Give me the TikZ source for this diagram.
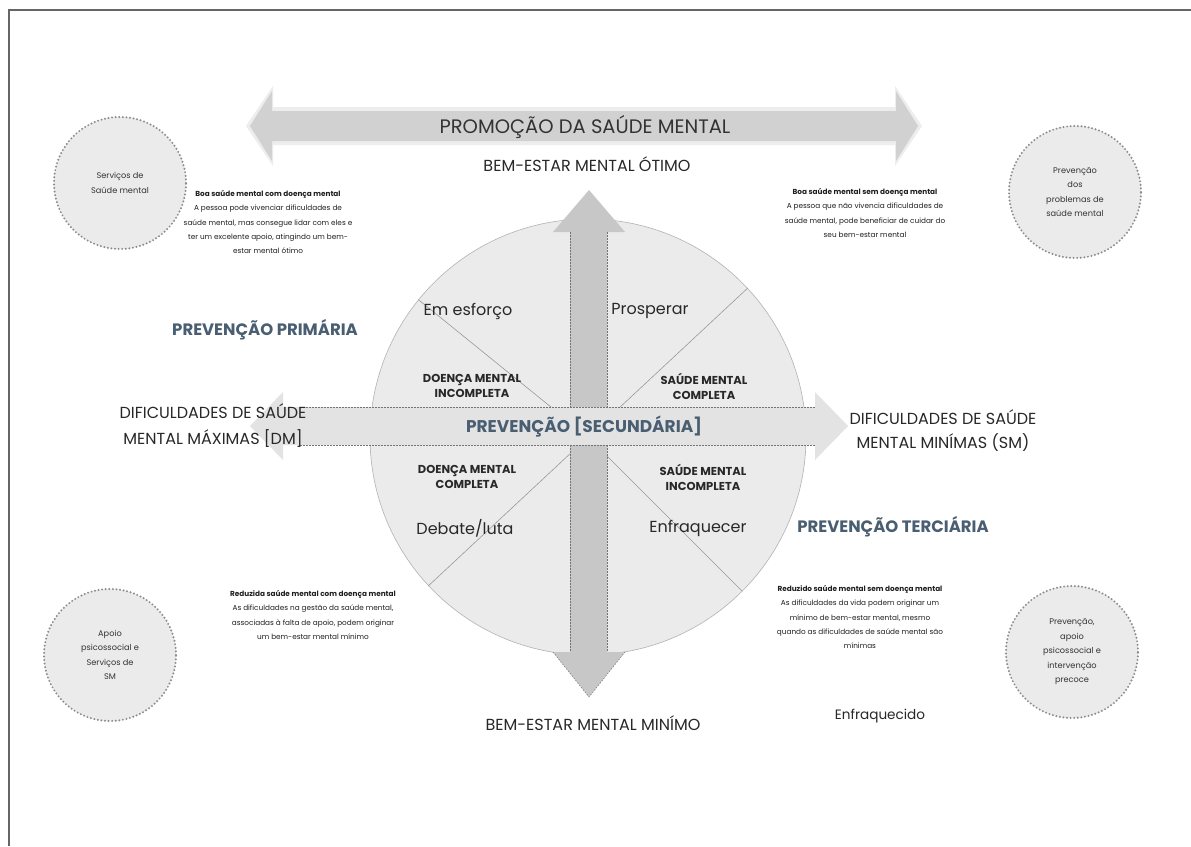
\documentclass[tikz,border=0pt]{standalone}
\usepackage{fontspec}
\setmainfont{Poppins}
\definecolor{prevblue}{RGB}{74,94,114}
\definecolor{inkgray}{RGB}{40,40,40}
\begin{document}
\begin{tikzpicture}[x=1pt,y=-1pt,
  frameline/.style={draw=black!60,line width=2pt},
  toparrow/.style={fill=black!18},
  toparrowshade/.style={fill=black!7},
  wheelbody/.style={circle,minimum size=436pt,inner sep=0pt,draw=black!30,line width=0.6pt,fill=black!8},
  divider/.style={draw=black!40,line width=0.6pt},
  varrow/.style={fill=black!22},
  harrow/.style={fill=black!11},
  dashedge/.style={draw=black!55,line width=0.5pt,dash pattern=on 1.5pt off 1.5pt},
  bubble/.style={circle,minimum size=132pt,inner sep=0pt,fill=black!8,draw=black!45,line width=2.2pt,dash pattern=on 0pt off 3.6pt,line cap=round,align=center,font=\fontsize{8.2}{14.5}\selectfont,text=black!80},
  heading/.style={font=\fontsize{16}{26}\selectfont,text=inkgray,align=center},
  prevlabel/.style={font=\fontsize{16.5}{18}\selectfont\bfseries,text=prevblue},
  quadname/.style={font=\fontsize{16}{18}\selectfont,text=inkgray},
  quadcap/.style={font=\fontsize{11.5}{15}\selectfont\bfseries,text=inkgray,align=center},
  note/.style={font=\fontsize{7.3}{14.4}\selectfont,text=black!88,align=center}
]
\useasboundingbox (0,0) rectangle (1191,846);
\fill[white] (0,0) rectangle (1191,846);
% frame
\draw[frameline] (8,10) -- (1191,10);
\draw[frameline] (9,10) -- (9,846);

% top arrow (promotion)
\fill[toparrowshade] (246,126) -- (273,86) -- (273,107) -- (895,107) -- (895,86) -- (922,126) -- (895,166) -- (895,145) -- (273,145) -- (273,166) -- cycle;
\fill[toparrow] (250,126) -- (272,91) -- (272,111) -- (896,111) -- (896,91) -- (918,126) -- (896,161) -- (896,141) -- (272,141) -- (272,161) -- cycle;
\node[font=\fontsize{19.5}{22}\selectfont,text=black!80] (promo) at (585,127) {PROMOÇÃO DA SAÚDE MENTAL};
\node[heading] (otimo) at (587,164) {BEM-ESTAR MENTAL ÓTIMO};

% wheel
\node[wheelbody] (wheel) at (588,437) {};
\draw[divider] (wheel.center) -- (wheel.141);
\draw[divider] (wheel.center) -- (wheel.43);
\draw[divider] (wheel.center) -- (wheel.223);
\draw[divider] (wheel.center) -- (wheel.315);

% vertical arrow
\fill[varrow] (589,190) -- (625,232) -- (607,232) -- (607,652) -- (625,652) -- (589,697) -- (553,652) -- (570,652) -- (570,232) -- (553,232) -- cycle;
\draw[dashedge] (570,232) -- (570,652);
\draw[dashedge] (607,232) -- (607,652);
\draw[dashedge] (553,652) -- (589,697) -- (625,652);

% horizontal arrow
\fill[harrow] (250,426) -- (283,392) -- (283,407) -- (815,407) -- (815,392) -- (848,426) -- (815,460) -- (815,445) -- (283,445) -- (283,460) -- cycle;
\draw[dashedge] (300,407) -- (815,407);
\draw[dashedge] (300,445) -- (815,445);
\node[font=\fontsize{17}{20}\selectfont\bfseries,text=prevblue] (sec) at (584,427) {PREVENÇÃO [SECUNDÁRIA]};

% quadrant names
\node[quadname] (esforco) at (468,311) {Em esforço};
\node[quadname] (prosperar) at (650,311) {Prosperar};
\node[quadname] (debate) at (465,528) {Debate/luta};
\node[quadname] (enfraquecer) at (698,528) {Enfraquecer};
\node[quadcap] (dmi) at (472,386) {DOENÇA MENTAL\\INCOMPLETA};
\node[quadcap] (smc) at (704,386) {SAÚDE MENTAL\\COMPLETA};
\node[quadcap] (dmc) at (467,477) {DOENÇA MENTAL\\COMPLETA};
\node[quadcap] (smi) at (703,477) {SAÚDE MENTAL\\INCOMPLETA};

% axis labels
\node[heading] (dm) at (213,426) {DIFICULDADES DE SAÚDE\\MENTAL MÁXIMAS [DM]};
\node[heading,font=\fontsize{16}{24}\selectfont] (sm) at (943,431) {DIFICULDADES DE SAÚDE\\MENTAL MINÍMAS (SM)};
\node[heading] (minimo) at (593,723) {BEM-ESTAR MENTAL MINÍMO};
\node[quadname,font=\fontsize{13.6}{16}\selectfont] (enfraquecido) at (880,716) {Enfraquecido};

% prevention labels
\node[prevlabel] (prim) at (265,330) {PREVENÇÃO PRIMÁRIA};
\node[prevlabel] (terc) at (893,527) {PREVENÇÃO TERCIÁRIA};

% notes
\node[note] (ntl) at (268,222) {\textbf{Boa saúde mental com doença mental}\\A pessoa pode vivenciar dificuldades de\\saúde mental, mas consegue lidar com eles e\\ter um excelente apoio, atingindo um bem-\\estar mental ótimo};
\node[note] (ntr) at (865,213) {\textbf{Boa saúde mental sem doença mental}\\A pessoa que não vivencia dificuldades de\\saúde mental, pode beneficiar de cuidar do\\seu bem-estar mental};
\node[note] (nbl) at (313,615) {\textbf{Reduzida saúde mental com doença mental}\\As dificuldades na gestão da saúde mental,\\associadas à falta de apoio, podem originar\\um bem-estar mental mínimo};
\node[note] (nbr) at (860,617) {\textbf{Reduzido saúde mental sem doença mental}\\As dificuldades da vida podem originar um\\mínimo de bem-estar mental, mesmo\\quando as dificuldades de saúde mental são\\mínimas};

% bubbles
\node[bubble] (btl) at (120,183) {Serviços de\\Saúde mental};
\node[bubble] (btr) at (1075,192) {Prevenção\\dos\\problemas de\\saúde mental};
\node[bubble] (bbl) at (110,655) {Apoio\\psicossocial e\\Serviços de\\SM};
\node[bubble] (bbr) at (1072,652) {Prevenção,\\apoio\\psicossocial e\\intervenção\\precoce};
\end{tikzpicture}
\end{document}
